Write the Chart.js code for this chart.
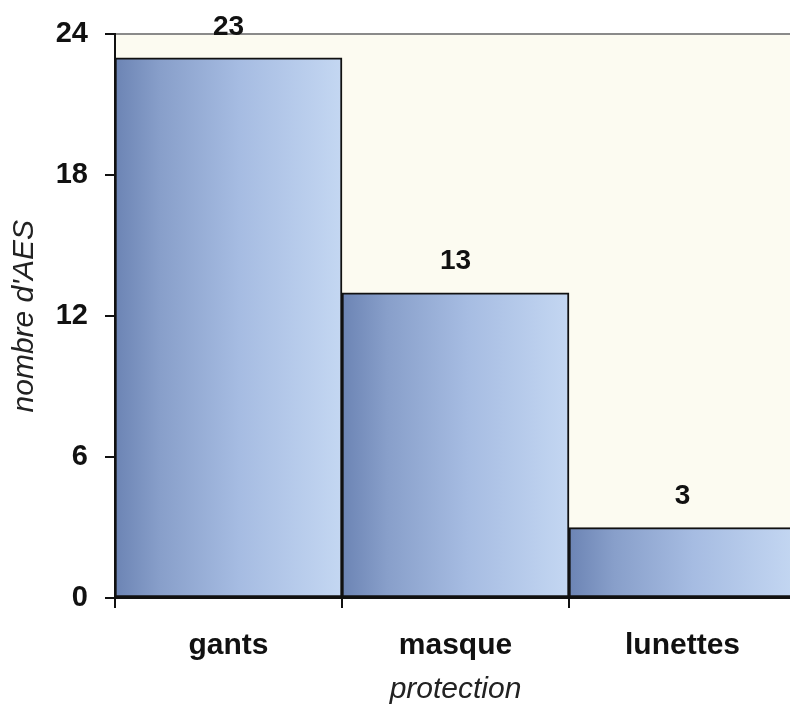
<!DOCTYPE html>
<html lang="fr">
<head>
  <meta charset="UTF-8" />
  <title>AES par protection</title>
  <script src="https://cdn.jsdelivr.net/npm/chart.js"></script>
  <style>
    html, body {
      margin: 0;
      padding: 0;
      background-color: #ffffff;
      overflow: hidden;
    }
    #wrap {
      width: 800px;
      height: 712px;
    }
  </style>
</head>
<body>
  <div id="wrap"><canvas id="aesChart" width="800" height="712"></canvas></div>

  <script>
    const categories = ['gants', 'masque', 'lunettes'];
    const counts = [23, 13, 3];
    const yTicks = [0, 6, 12, 18, 24];

    // fond crème de la zone de tracé
    const plotBg = {
      id: 'plotBg',
      beforeDraw(chart) {
        const { ctx, chartArea: a } = chart;
        ctx.save();
        ctx.fillStyle = '#fcfbf1';
        ctx.fillRect(a.left, a.top, a.right - a.left, a.bottom - a.top);
        ctx.restore();
      }
    };

    // valeurs au-dessus des barres
    const valueLabels = {
      id: 'valueLabels',
      afterDatasetsDraw(chart) {
        const { ctx } = chart;
        const meta = chart.getDatasetMeta(0);
        ctx.save();
        ctx.font = 'bold 28px "Liberation Sans", Arial, sans-serif';
        ctx.fillStyle = '#111';
        ctx.textAlign = 'center';
        ctx.textBaseline = 'middle';
        meta.data.forEach((bar, i) => {
          ctx.fillText(String(counts[i]), bar.x, bar.y - 31);
        });
        ctx.restore();
      }
    };

    function barGradient(c) {
      const chart = c.chart;
      if (!chart.chartArea) return '#a3b9de';
      const xs = chart.scales.x;
      const cx = xs.getPixelForValue(c.dataIndex);
      const w = xs.width / categories.length;
      const g = chart.ctx.createLinearGradient(cx - w / 2, 0, cx + w / 2, 0);
      g.addColorStop(0, '#6c84b4');
      g.addColorStop(0.2, '#889fca');
      g.addColorStop(0.55, '#a6bce2');
      g.addColorStop(1, '#c4d7f2');
      return g;
    }

    const ctx = document.getElementById('aesChart').getContext('2d');
    new Chart(ctx, {
      type: 'bar',
      data: {
        labels: categories,
        datasets: [{
          data: counts,
          backgroundColor: barGradient,
          borderColor: '#111',
          borderWidth: 2,
          borderSkipped: false,
          barPercentage: 1,
          categoryPercentage: 1
        }]
      },
      options: {
        responsive: false,
        animation: false,
        layout: { padding: { top: 32, right: 4, left: 0, bottom: 0 } },
        plugins: {
          legend: { display: false },
          tooltip: { enabled: false }
        },
        scales: {
          x: {
            grid: {
              offset: true,
              drawOnChartArea: false,
              tickLength: 10,
              color: '#111',
              lineWidth: 2
            },
            border: { display: true, color: '#111', width: 2 },
            ticks: {
              color: '#111',
              padding: 20,
              font: { family: '"Liberation Sans", Arial, sans-serif', size: 30, weight: 'bold' }
            },
            title: {
              display: true,
              text: 'protection',
              color: '#222',
              padding: { top: 4, bottom: 4 },
              font: { family: '"Liberation Sans", Arial, sans-serif', size: 30, style: 'italic' }
            },
            afterFit(scale) { scale.height = 114; }
          },
          y: {
            min: 0,
            max: 24,
            afterBuildTicks(scale) {
              scale.ticks = yTicks.map(v => ({ value: v }));
            },
            grid: {
              drawOnChartArea: true,
              tickLength: 10,
              color: c => (c.tick && c.tick.value === 24 ? '#8a8a8a' : 'rgba(0,0,0,0)'),
              tickColor: '#111',
              lineWidth: 2
            },
            border: { display: true, color: '#111', width: 2 },
            ticks: {
              color: '#111',
              padding: 17,
              font: { family: '"Liberation Sans", Arial, sans-serif', size: 29, weight: 'bold' }
            },
            title: {
              display: true,
              text: "nombre d'AES",
              color: '#222',
              padding: { top: 7, bottom: 0 },
              font: { family: '"Liberation Sans", Arial, sans-serif', size: 30, style: 'italic' }
            },
            afterFit(scale) { scale.width = 115; }
          }
        }
      },
      plugins: [plotBg, valueLabels]
    });
  </script>
</body>
</html>
